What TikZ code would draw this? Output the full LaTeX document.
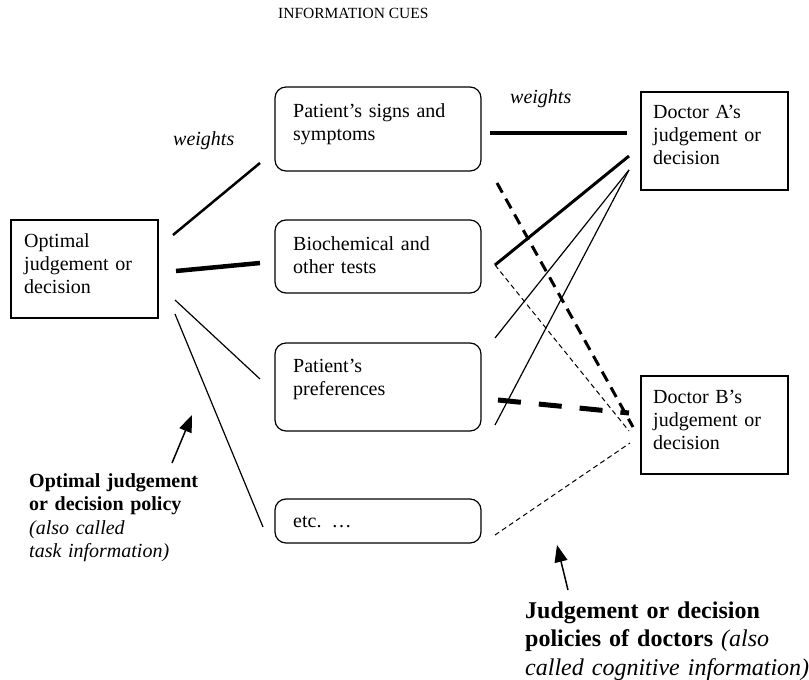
\documentclass[tikz,border=0pt]{standalone}
\usepackage{fontspec}
\setmainfont{Liberation Serif}
\usetikzlibrary{arrows.meta}
\begin{document}
\begin{tikzpicture}[x=1pt,y=-1pt,
  sqbox/.style={draw, line width=1.2pt, inner sep=0pt, minimum width=147pt, minimum height=98pt},
  cuebox/.style={draw, line width=1.2pt, rounded corners=11pt, inner sep=0pt, minimum width=206pt},
  boxtext/.style={anchor=north west, inner sep=0pt, text width=220pt, align=left, font=\fontsize{20}{23}\selectfont},
  wlabel/.style={anchor=base west, inner sep=0pt, font=\fontsize{20}{23}\selectfont\itshape},
  thinline/.style={line width=1.2pt},
  thindash/.style={line width=1pt, dash pattern=on 5pt off 3.5pt},
  pointer/.style={line width=1.5pt, -{Triangle[length=17pt,width=13pt]}}]
\useasboundingbox (0,0) rectangle (809,680);

% title
\node[anchor=base west, inner sep=0pt, font=\fontsize{15.5}{18}\selectfont] (title) at (278,18) {INFORMATION CUES};

% boxes
\node[sqbox] (opt) at (84.5,269) {};
\node[cuebox, minimum height=84pt] (c1) at (378,129) {};
\node[cuebox, minimum height=73pt] (c2) at (378,256.5) {};
\node[cuebox, minimum height=88pt] (c3) at (378,387) {};
\node[cuebox, minimum height=44pt] (c4) at (378,521) {};
\node[sqbox] (docA) at (714.5,141) {};
\node[sqbox] (docB) at (714.5,425) {};

% box texts
\node[boxtext] (optT) at (24,230.9) {\strut Optimal\\judgement or\\decision};
\node[boxtext] (c1T) at (293,100.9) {\strut Patient’s signs and\\symptoms};
\node[boxtext] (c2T) at (293,233.9) {\strut Biochemical and\\other tests};
\node[boxtext] (c3T) at (293,355.9) {\strut Patient’s\\preferences};
\node[boxtext] (c4T) at (293,510.9) {\strut etc. …};
\node[boxtext] (docAT) at (653,101.9) {\strut Doctor A’s\\judgement or\\decision};
\node[boxtext] (docBT) at (653,386.9) {\strut Doctor B’s\\judgement or\\decision};

% weights labels
\node[wlabel] (w1) at (173,145) {weights};
\node[wlabel] (w2) at (510,103) {weights};

% connector end points
\coordinate (o1) at (173,235); \coordinate (i1) at (260,163);
\coordinate (o2) at (176,271); \coordinate (i2) at (260,263);
\coordinate (o3) at (175,300); \coordinate (i3) at (260,379);
\coordinate (o4) at (175,314); \coordinate (i4) at (263,527);

\coordinate (c1e) at (490,133); \coordinate (aIn1) at (627,133);
\coordinate (c2e) at (495,265); \coordinate (aIn2) at (629,156);
\coordinate (c3e) at (495,338); \coordinate (aIn3) at (629,170);
\coordinate (c3f) at (495,425);
\coordinate (c1f) at (497,183); \coordinate (bIn1) at (633,427);
\coordinate (bIn2) at (629,431);
\coordinate (c3g) at (498,400); \coordinate (bIn3) at (629,413);
\coordinate (c4e) at (495,535); \coordinate (bIn4) at (630,443);

% left weights
\draw[line width=2.5pt] (o1) -- (i1);
\draw[line width=4.5pt] (o2) -- (i2);
\draw[thinline] (o3) -- (i3);
\draw[thinline] (o4) -- (i4);

% doctor A
\draw[line width=4.5pt] (c1e) -- (aIn1);
\draw[line width=3pt] (c2e) -- (aIn2);
\draw[thinline] (c3e) -- (aIn3);
\draw[thinline] (c3f) -- (aIn3);

% doctor B
\draw[thindash] (c2e) -- (bIn2);
\draw[line width=3pt, dash pattern=on 11pt off 7pt] (c1f) -- (bIn1);
\draw[line width=5pt, dash pattern=on 23pt off 18pt] (c3g) -- (bIn3);
\draw[thindash] (c4e) -- (bIn4);

% annotations
\node[anchor=north west, inner sep=0pt, text width=220pt, align=left, font=\fontsize{20}{23.3}\selectfont] (taskT) at (29,470.9)
  {\strut\textbf{Optimal judgement}\\\textbf{or decision policy}\\\textit{(also called}\\\textit{task information)}};
\node[anchor=north west, inner sep=0pt, text width=300pt, align=left, font=\fontsize{24}{28.5}\selectfont] (cogT) at (525,598.05)
  {\strut\textbf{Judgement or decision}\\\textbf{policies of doctors} \textit{(also}\\\textit{called cognitive information)}};
\coordinate (a1s) at (172,463); \coordinate (a1e) at (192,415);
\coordinate (a2s) at (568,590); \coordinate (a2e) at (557,545);
\draw[pointer] (a1s) -- (a1e);
\draw[pointer] (a2s) -- (a2e);
\end{tikzpicture}
\end{document}
